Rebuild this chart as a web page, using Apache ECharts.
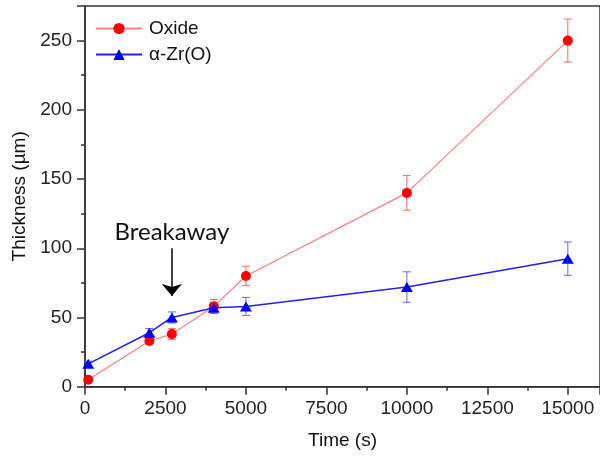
<!DOCTYPE html>
<html>
<head>
<meta charset="utf-8">
<script src="https://cdn.jsdelivr.net/npm/echarts@6/dist/echarts.min.js"></script>
<style>
  html, body { margin: 0; padding: 0; background: #fff; }
  #chart { width: 600px; height: 456px; }
</style>
</head>
<body>
<div id="chart"></div>
<script>
// Exposure time (s) and measured layer thickness (µm) with error half-widths
const times = [100, 2000, 2700, 4000, 5000, 10000, 15000];
const oxide = [5, 33, 38, 58, 80, 140, 250];
const oxideErr = [1, 2, 4, 5, 7, 12.5, 15.5];
const alphaZr = [16.5, 39, 50, 57, 58, 72, 92.5];
const alphaZrErr = [2, 3, 4, 4, 6.5, 11, 12];

// Breakaway annotation: time and arrow span on the thickness axis
const breakawayTime = 2700;
const arrowSpan = [100, 65.5];

const xTicks = { min: 0, max: 16000, interval: 2500 };
const yTicks = { min: 0, max: 275, interval: 50 };

const AXIS_FONT = 'Liberation Sans, Arial, sans-serif';

function pairs(xs, ys) { return xs.map((x, i) => [x, ys[i]]); }
function errRows(xs, ys, es) { return xs.map((x, i) => [x, ys[i] - es[i], ys[i] + es[i]]); }

function errorBars(color) {
  return function (params, api) {
    const x = api.value(0);
    const lo = api.coord([x, api.value(1)]);
    const hi = api.coord([x, api.value(2)]);
    const hw = 4;
    const style = { stroke: color, lineWidth: 1 };
    return {
      type: 'group',
      children: [
        { type: 'line', shape: { x1: hi[0], y1: hi[1], x2: lo[0], y2: lo[1] }, style },
        { type: 'line', shape: { x1: hi[0] - hw, y1: hi[1], x2: hi[0] + hw, y2: hi[1] }, style },
        { type: 'line', shape: { x1: lo[0] - hw, y1: lo[1], x2: lo[0] + hw, y2: lo[1] }, style }
      ]
    };
  };
}

const chart = echarts.init(document.getElementById('chart'), null, { renderer: 'canvas' });

const axisLine = { show: true, lineStyle: { color: '#333', width: 1.5 } };

chart.setOption({
  animation: false,
  backgroundColor: '#fff',
  grid: {
    left: 85, top: 6, width: 518, height: 380.7,
    show: true, borderColor: '#333', borderWidth: 1.5, backgroundColor: 'transparent'
  },
  legend: {
    left: 95, top: 19, orient: 'vertical', padding: 0,
    itemWidth: 46, itemHeight: 14, itemGap: 7,
    textStyle: { fontFamily: AXIS_FONT, fontSize: 19, color: '#111', padding: [0, 0, 0, 2] },
    data: ['Oxide', 'α-Zr(O)']
  },
  xAxis: {
    type: 'value', min: xTicks.min, max: xTicks.max, interval: xTicks.interval,
    name: 'Time (s)', nameLocation: 'middle', nameGap: 45,
    nameTextStyle: { fontFamily: AXIS_FONT, fontSize: 19, color: '#111' },
    axisLine: axisLine,
    axisTick: { show: true, inside: false, length: 8, lineStyle: { color: '#333', width: 1.5 } },
    minorTick: { show: true, splitNumber: 2, length: 4, lineStyle: { color: '#333', width: 1.5 } },
    splitLine: { show: false },
    axisLabel: { fontFamily: AXIS_FONT, fontSize: 19, color: '#222', margin: 13, showMaxLabel: false,
      formatter: v => (v % xTicks.interval === 0 ? String(v) : '') }
  },
  yAxis: {
    type: 'value', min: yTicks.min, max: yTicks.max, interval: yTicks.interval,
    name: 'Thickness (µm)', nameLocation: 'middle', nameGap: 52,
    nameTextStyle: { fontFamily: AXIS_FONT, fontSize: 19, color: '#111' },
    axisLine: axisLine,
    axisTick: { show: true, inside: false, length: 8, lineStyle: { color: '#333', width: 1.5 } },
    minorTick: { show: true, splitNumber: 2, length: 4, lineStyle: { color: '#333', width: 1.5 } },
    splitLine: { show: false },
    axisLabel: { fontFamily: AXIS_FONT, fontSize: 19, color: '#222', margin: 13, showMaxLabel: false,
      formatter: v => (v % yTicks.interval === 0 ? String(v) : '') }
  },
  series: [
    {
      type: 'custom', name: 'oxide-err', renderItem: errorBars('#ff6666'),
      data: errRows(times, oxide, oxideErr), encode: { x: 0, y: [1, 2] }, z: 1, silent: true
    },
    {
      type: 'custom', name: 'alpha-err', renderItem: errorBars('#6666ff'),
      data: errRows(times, alphaZr, alphaZrErr), encode: { x: 0, y: [1, 2] }, z: 1, silent: true
    },
    {
      type: 'line', name: 'Oxide', data: pairs(times, oxide), z: 3,
      symbol: 'circle', symbolSize: 10,
      itemStyle: { color: '#ff0000' },
      lineStyle: { color: '#ff7f7f', width: 1.2 },
      markLine: {
        silent: true, animation: false,
        symbol: ['none', 'arrow'], symbolSize: [15, 12],
        lineStyle: { color: '#000', width: 1.5, type: 'solid' },
        label: {
          show: true, position: 'start', distance: 4, formatter: 'Breakaway',
          fontFamily: 'Lato, Open Sans, sans-serif', fontSize: 24, color: '#111'
        },
        data: [[{ coord: [breakawayTime, arrowSpan[0]] }, { coord: [breakawayTime, arrowSpan[1]] }]]
      }
    },
    {
      type: 'line', name: 'α-Zr(O)', data: pairs(times, alphaZr), z: 4,
      symbol: 'triangle', symbolSize: [12, 10],
      itemStyle: { color: '#0000ff' },
      lineStyle: { color: '#2020ff', width: 1.5 }
    }
  ]
});
</script>
</body>
</html>
